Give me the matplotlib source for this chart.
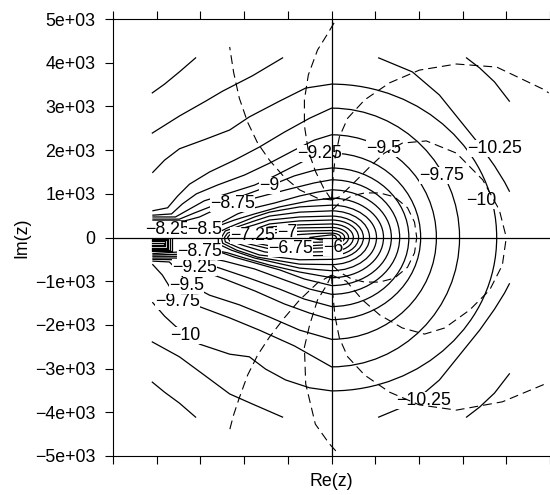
import matplotlib
matplotlib.use("Agg")
import matplotlib.pyplot as plt
from matplotlib.path import Path
from matplotlib.patches import PathPatch
import numpy as np

plt.rcParams['font.family'] = ['Liberation Sans', 'DejaVu Sans']
plt.rcParams['font.size'] = 12.8

SCALE = 1000.0   # coordinates below are in units of 1e+03

# levels that run all the way round the right side
levels = [-10, -9.75, -9.5, -9.25, -9, -8.75, -8.5, -8.25, -8,
          -7.75, -7.5, -7.25, -7, -6.75, -6.5, -6.25, -6]
# where each of them crosses the positive real axis
arc_right = [3.78, 2.93, 2.40, 2.04, 1.77, 1.56, 1.37, 1.19, 1.03,
             0.87, 0.73, 0.62, 0.50, 0.39, 0.30, 0.21, 0.11]

# part above the real axis, left end -> imaginary axis
upper_x = [
    [-4.10, -3.82, -3.48, -2.88, -2.33, -1.88, -1.19, -0.59, 0],
    [-4.10, -3.75, -3.52, -3.25, -2.79, -2.22, -1.65, -1.08, -0.50, 0],
    [-4.10, -3.66, -3.41, -3.09, -2.61, -1.99, -1.42, -0.85, -0.39, 0],
    [-4.10, -3.57, -3.25, -2.91, -2.33, -1.76, -1.30, -0.73, -0.37, 0],
    [-4.10, -3.48, -3.14, -2.68, -1.99, -1.42, -0.85, -0.39, 0],
    [-4.10, -3.36, -3.02, -2.68, -2.27, -1.65, -0.96, -0.39, 0],
    [-4.10, -3.48, -2.91, -2.68, -2.45, -2.15, -1.76, -1.30, -0.73, -0.32, 0],
    [-4.10, -3.82, -3.48, -3.07, -2.75, -2.52, -2.22, -1.76, -1.19, -0.50, 0],
    [-2.59, -2.56, -2.38, -2.11, -1.76, -1.42, -0.73, 0],
    [-2.52, -2.43, -2.11, -1.76, -1.42, -0.73, 0],
    [-2.45, -2.38, -2.11, -1.76, -1.42, -0.73, 0],
    [-2.38, -2.33, -2.11, -1.76, -1.42, -0.73, 0],
    [-2.29, -2.20, -1.88, -1.42, -0.73, 0],
    [-2.20, -2.15, -1.88, -1.42, -0.73, 0],
    [-1.76, -1.53, -1.08, -0.50, 0],
    [-1.08, -0.85, -0.39, 0],
    [-0.50, -0.27, 0],
]
upper_y = [
    [1.48, 1.77, 2.03, 2.25, 2.46, 2.76, 3.12, 3.42, 3.51],
    [0.61, 0.68, 0.95, 1.22, 1.50, 1.77, 2.07, 2.41, 2.73, 2.96],
    [0.51, 0.54, 0.77, 1.00, 1.20, 1.43, 1.70, 2.00, 2.23, 2.35],
    [0.47, 0.47, 0.65, 0.84, 1.02, 1.20, 1.41, 1.70, 1.89, 1.93],
    [0.42, 0.42, 0.56, 0.74, 0.97, 1.18, 1.41, 1.54, 1.59],
    [0.38, 0.38, 0.47, 0.63, 0.77, 0.93, 1.11, 1.25, 1.32],
    [0.33, 0.29, 0.22, 0.26, 0.38, 0.54, 0.68, 0.79, 0.95, 1.04, 1.09],
    [0.26, 0.22, 0.17, 0.15, 0.19, 0.29, 0.40, 0.54, 0.70, 0.84, 0.90],
    [0, 0.13, 0.22, 0.33, 0.47, 0.58, 0.70, 0.74],
    [0, 0.15, 0.26, 0.38, 0.49, 0.58, 0.61],
    [0, 0.10, 0.19, 0.29, 0.40, 0.47, 0.49],
    [0, 0.06, 0.13, 0.19, 0.31, 0.38, 0.40],
    [0, 0.08, 0.15, 0.24, 0.29, 0.31],
    [0, 0.03, 0.10, 0.17, 0.22, 0.23],
    [0, 0.08, 0.13, 0.15, 0.16],
    [0, 0.06, 0.09, 0.10],
    [0, 0.03, 0.06],
]
# part below the real axis, left end -> imaginary axis
lower_x = [
    [-4.10, -3.82, -3.57, -3.02, -2.33, -1.88, -1.51, -1.05, -0.50, 0],
    [-4.10, -3.87, -3.66, -3.52, -3.00, -2.33, -1.65, -0.85, 0],
    [-4.10, -3.71, -3.48, -3.32, -2.79, -2.11, -1.42, -0.73, 0],
    [-4.10, -3.52, -3.25, -3.02, -2.45, -1.76, -1.08, -0.50, 0],
    [-4.10, -3.43, -3.07, -2.56, -1.88, -1.19, -0.62, 0],
    [-4.10, -3.34, -2.91, -2.45, -1.76, -1.08, -0.50, 0],
    [-4.10, -3.36, -2.91, -2.56, -2.22, -1.76, -1.19, -0.62, 0],
    [-4.10, -3.48, -2.91, -2.68, -2.38, -1.99, -1.42, -0.73, 0],
    [-2.59, -2.59, -2.29, -1.76, -0.73, 0],
    [-2.52, -2.49, -2.17, -1.69, -0.73, 0],
    [-2.45, -2.43, -2.11, -1.65, -0.73, 0],
    [-2.38, -2.33, -1.99, -1.53, -0.73, 0],
    [-2.29, -2.20, -1.88, -1.42, -0.73, 0],
    [-2.20, -2.15, -1.88, -1.42, -0.73, 0],
    [-1.76, -1.53, -1.08, -0.50, 0],
    [-1.08, -0.85, -0.39, 0],
    [-0.50, -0.27, 0],
]
lower_y = [
    [-1.48, -1.80, -2.03, -2.44, -2.67, -2.73, -3.01, -3.26, -3.44, -3.51],
    [-0.61, -0.86, -1.20, -1.43, -1.59, -1.84, -2.12, -2.48, -2.96],
    [-0.54, -0.56, -0.79, -1.04, -1.32, -1.54, -1.82, -2.12, -2.33],
    [-0.50, -0.51, -0.63, -0.74, -0.95, -1.22, -1.52, -1.73, -1.88],
    [-0.47, -0.47, -0.54, -0.70, -0.93, -1.18, -1.41, -1.58],
    [-0.43, -0.43, -0.45, -0.54, -0.72, -0.97, -1.18, -1.30],
    [-0.40, -0.38, -0.33, -0.33, -0.45, -0.58, -0.74, -0.95, -1.10],
    [-0.37, -0.33, -0.29, -0.29, -0.35, -0.47, -0.63, -0.79, -0.92],
    [0, -0.15, -0.29, -0.47, -0.70, -0.76],
    [0, -0.13, -0.29, -0.45, -0.61, -0.62],
    [0, -0.10, -0.24, -0.40, -0.51, -0.50],
    [0, -0.08, -0.19, -0.33, -0.42, -0.41],
    [0, -0.06, -0.15, -0.26, -0.34, -0.32],
    [0, -0.03, -0.10, -0.19, -0.26, -0.23],
    [0, -0.08, -0.15, -0.19, -0.16],
    [0, -0.07, -0.11, -0.10],
    [0, -0.05, -0.06],
]

# outer levels that are cut by the edge of the grid
pieces_x = [
    [-4.10, -3.48, -2.88, -2.49, -1.81, -1.12],
    [-4.10, -3.48, -2.95, -2.33, -1.81, -1.12],
    [1.08, 1.85, 2.47, 2.97, 3.39, 3.73, 3.96, 4.07],
    [1.08, 1.85, 2.47, 2.97, 3.39, 3.73, 3.96, 4.07],
    [-4.10, -3.82, -3.48, -3.11],
    [-4.10, -3.82, -3.48, -3.11],
    [3.09, 3.39, 3.73, 4.07],
    [3.09, 3.39, 3.73, 4.07],
]
pieces_y = [
    [2.39, 2.78, 3.12, 3.35, 3.70, 4.11],
    [-2.39, -2.73, -3.12, -3.58, -3.81, -4.11],
    [4.11, 3.79, 3.26, 2.64, 2.12, 1.64, 1.27, 1.06],
    [-4.11, -3.79, -3.26, -2.64, -2.12, -1.64, -1.27, -1.06],
    [3.31, 3.51, 3.79, 4.11],
    [-3.31, -3.54, -3.79, -4.11],
    [4.11, 3.88, 3.56, 3.12],
    [-4.11, -3.88, -3.56, -3.12],
]

# the dense little loops at the left edge of the grid
block_top = [0.03, 0.0, -0.03, -0.06, -0.09, -0.12]
block_bot = [-0.32, -0.29, -0.26, -0.23, -0.20, -0.17]
block_right = [-3.66, -3.70, -3.73, -3.77, -3.80, -3.84]
grid_left = -4.10

label_text = ["\u221210.25", "\u221210.25", "\u221210", "\u221210", "\u22129.75",
              "\u22129.75", "\u22129.5", "\u22129.5", "\u22129.25", "\u22129.25",
              "\u22129", "\u22128.75", "\u22128.75", "\u22128.25", "\u22128.5",
              "\u22127", "\u22127.25", "\u22126.75", "\u22126"]
label_x = [3.73, 2.11, 3.43, -3.34, 2.52, -3.52, 1.19, -3.32, -0.27, -3.14,
           -1.42, -2.27, -3.02, -3.76, -2.90, -1.02, -1.80, -0.94, 0.04]
label_y = [2.03, -3.74, 0.84, -2.25, 1.43, -1.47, 2.04, -1.10, 1.92, -0.68,
           1.18, 0.77, -0.31, 0.19, 0.19, 0.12, 0.05, -0.25, -0.22]

# dashed curves
dash_x = [
    [0, -0.32, -0.73, -1.08, -1.42, -1.69, -1.92, -2.11, -2.24, -2.33],
    [0, -0.18, -0.37, -0.53, -0.62, -0.62, -0.53, -0.32, -0.09, 0.07],
    [0, 0.03, 0.08, 0.18, 0.37, 0.76, 1.33, 2.01, 2.86, 3.78, 4.83, 4.97],
    [0, 0.18, 0.53, 0.87, 1.21, 1.62, 2.17, 2.86, 3.46, 3.84, 4.00],
    [0.02, 0.18, 0.46, 0.76, 1.10, 1.44, 1.74, 1.90, 1.95],
    [0, -0.32, -0.73, -1.08, -1.42, -1.69, -1.92, -2.11, -2.24, -2.33],
    [0, -0.11, -0.32, -0.50, -0.62, -0.59, -0.37, -0.05, 0.14],
    [0, 0.03, 0.08, 0.18, 0.37, 0.76, 1.33, 2.01, 2.86, 3.91, 4.94],
    [0, 0.34, 0.71, 1.10, 1.62, 2.13, 2.59, 3.16, 3.62, 3.91, 4.00],
    [0.02, 0.18, 0.46, 0.76, 1.10, 1.44, 1.74, 1.90, 1.95],
]
dash_y = [
    [0.86, 0.90, 1.09, 1.38, 1.77, 2.16, 2.64, 3.19, 3.78, 4.36],
    [0.86, 1.13, 1.52, 1.98, 2.56, 3.15, 3.72, 4.29, 4.66, 4.93],
    [0.86, 1.30, 1.80, 2.30, 2.73, 3.15, 3.54, 3.83, 3.97, 3.90, 3.40, 3.31],
    [0.86, 0.93, 1.27, 1.61, 1.93, 2.16, 2.21, 1.93, 1.32, 0.63, 0],
    [0.63, 0.79, 0.95, 1.02, 1.02, 0.93, 0.68, 0.35, 0],
    [-0.86, -1.04, -1.43, -1.84, -2.28, -2.69, -3.15, -3.67, -4.06, -4.40],
    [-0.86, -1.09, -1.43, -2.00, -2.51, -3.35, -4.27, -4.72, -4.93],
    [-0.86, -1.30, -1.80, -2.30, -2.73, -3.15, -3.54, -3.83, -3.95, -3.76, -3.33],
    [-0.86, -1.00, -1.43, -1.77, -2.07, -2.21, -2.07, -1.66, -1.20, -0.63, 0],
    [-0.63, -0.79, -0.95, -1.02, -1.02, -0.93, -0.68, -0.35, 0],
]

ytick_vals = [-5000, -4000, -3000, -2000, -1000, 0, 1000, 2000, 3000, 4000, 5000]
ytick_text = ["\u22125e+03", "\u22124e+03", "\u22123e+03", "\u22122e+03", "\u22121e+03",
              "0", "1e+03", "2e+03", "3e+03", "4e+03", "5e+03"]
xtick_vals = [-5000, -4000, -3000, -2000, -1000, 0, 1000, 2000, 3000, 4000, 5000]


def full_contour(ux, uy, lx, ly, r):
    # upper branch, round the right side, back along the lower branch
    k = 0.5523
    top, bot = uy[-1], ly[-1]
    verts = list(zip(ux, uy))
    codes = [Path.MOVETO] + [Path.LINETO] * (len(ux) - 1)
    verts += [(k * r, top), (r, k * top), (r, 0), (r, k * bot), (k * r, bot), (0, bot)]
    codes += [Path.CURVE4] * 6
    for x, y in list(zip(lx, ly))[-2::-1]:
        verts.append((x, y))
        codes.append(Path.LINETO)
    verts = [(x * SCALE, y * SCALE) for x, y in verts]
    return Path(verts, codes)


fig = plt.figure(figsize=(5.5, 4.95), dpi=100)
ax = fig.add_axes([113 / 550, 39 / 495, 437 / 550, 437 / 495])

for i in range(len(levels)):
    p = full_contour(upper_x[i], upper_y[i], lower_x[i], lower_y[i], arc_right[i])
    ax.add_patch(PathPatch(p, fill=False, ec='black', lw=0.9, zorder=2))

for xs, ys in zip(pieces_x, pieces_y):
    ax.plot(np.array(xs) * SCALE, np.array(ys) * SCALE, color='black', lw=0.9, zorder=2)

for t, b, r in zip(block_top, block_bot, block_right):
    bx = np.array([grid_left, r, r, grid_left]) * SCALE
    by = np.array([t, t, b, b]) * SCALE
    ax.plot(bx, by, color='black', lw=0.9, zorder=2)

for s, x, y in zip(label_text, label_x, label_y):
    ax.text(x * SCALE, y * SCALE, s, ha='center', va='center', zorder=3,
            bbox=dict(boxstyle='square,pad=0.0', fc='white', ec='none'))

for xs, ys in zip(dash_x, dash_y):
    ax.plot(np.array(xs) * SCALE, np.array(ys) * SCALE, color='black', lw=0.8,
            ls=(0, (8, 4.5)), zorder=4)

ax.axhline(0, color='black', lw=0.9, zorder=4)
ax.axvline(0, color='black', lw=0.9, zorder=4)

ax.set_xlim(-5000, 5000)
ax.set_ylim(-5000, 5000)
ax.set_xticks(xtick_vals)
ax.set_xticklabels([])
ax.set_yticks(ytick_vals)
ax.set_yticklabels(ytick_text)
ax.tick_params(axis='x', top=True, bottom=True, direction='out', length=5.8, width=0.8)
ax.tick_params(axis='y', left=True, right=False, direction='out', length=5.8, width=0.8, pad=7)
ax.spines['right'].set_visible(False)
for s in ['left', 'top', 'bottom']:
    ax.spines[s].set_linewidth(0.8)

ax.set_xlabel("Re(z)")
ax.set_ylabel("Im(z)")
ax.xaxis.set_label_coords(0.5, -0.04)
ax.yaxis.set_label_coords(-0.19, 0.5)

fig.savefig("out.png", dpi=100)
